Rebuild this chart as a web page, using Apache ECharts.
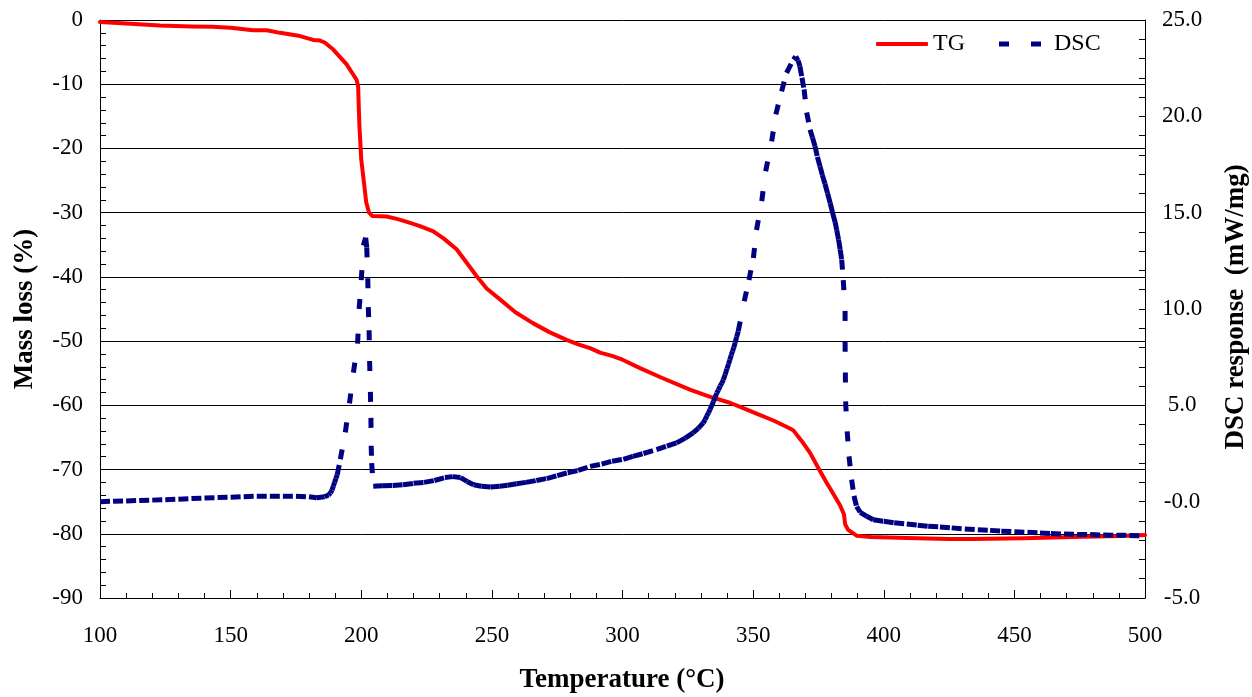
<!DOCTYPE html>
<html>
<head>
<meta charset="utf-8">
<script src="https://cdn.jsdelivr.net/npm/echarts@6/dist/echarts.min.js"></script>
<style>
  html, body { margin: 0; padding: 0; background: #fff; }
  #chart { width: 1252px; height: 697px; }
</style>
</head>
<body>
<div id="chart"></div>
<script>
// Temperature ticks and axis ranges
const xTicks = [100, 150, 200, 250, 300, 350, 400, 450, 500];
const massTicks = [0, -10, -20, -30, -40, -50, -60, -70, -80, -90];
const dscTicks = [-5, 0, 5, 10, 15, 20, 25];
const dscTickLabels = ['-5.0', '-0.0', '5.0', '10.0', '15.0', '20.0', '25.0'];

// TG curve: temperature (°C) and mass loss (%)
const tgT = [100, 110, 123, 135, 143, 150, 158.6, 163.8, 168.9, 176.6, 181.6, 184.2, 186, 189.3, 194.4,
  198.2, 198.8, 199.3, 200, 201.2, 201.9, 203, 204.2, 209.7, 214, 218.7, 222.5, 227.6, 231.5, 236.5, 240,
  244.2, 248, 253.1, 259, 265.7, 272, 278.6, 283, 287.6, 291.4, 296, 300, 306.7, 315, 325.8, 333, 341.1,
  346, 351.3, 358, 364.1, 365.4, 368.5, 371.8, 375, 378.2, 381, 383.3, 384.8, 385.2, 386.4, 389.6, 395,
  408.8, 425, 434.3, 453.4, 472.6, 490, 500];
const tgV = [-0.3, -0.55, -0.86, -1.0, -1.06, -1.2, -1.6, -1.6, -2.0, -2.5, -3.1, -3.2, -3.5, -4.6, -6.9,
  -9.3, -10.3, -16.5, -21.7, -25.9, -28.4, -30.0, -30.5, -30.6, -31.0, -31.6, -32.1, -32.9, -34.0, -35.7,
  -37.6, -39.9, -41.8, -43.5, -45.5, -47.2, -48.6, -49.8, -50.5, -51.1, -51.8, -52.3, -52.9, -54.2, -55.7,
  -57.55, -58.6, -59.6, -60.4, -61.3, -62.4, -63.6, -63.9, -65.5, -67.4, -69.8, -72.1, -74.0, -75.6, -77.0,
  -78.5, -79.4, -80.3, -80.5, -80.65, -80.8, -80.8, -80.7, -80.5, -80.35, -80.2];

// DSC curve: temperature (°C) and heat flow (mW/mg)
const dscT = [100, 105, 110, 115, 120, 125, 130, 135, 140, 145, 150, 155, 160, 165, 170, 175, 180, 183,
  186, 187.5, 188.2, 188.8, 189.3, 189.8, 190.3, 190.8, 192, 193.9, 195.5, 197, 198.6, 199.2, 200, 200.8,
  201.7, 202.1, 202.5, 202.7, 203, 203.2, 203.5, 203.7, 203.8, 204, 204.6, 208, 212, 216, 220, 224, 228,
  232, 235, 238, 240.5, 243, 246, 249.5, 253, 256, 259.5, 263, 267, 271, 275, 279, 283, 287.6, 292, 296,
  300.3, 304, 308, 313, 317, 320.7, 324, 327, 329, 330.9, 331.6, 332.3, 332.9, 333.5, 334.2, 334.8, 335.5,
  336.1, 336.7, 337.4, 338, 338.6, 339.3, 340, 340.6, 341.1, 341.6, 342.1, 342.6, 343.1, 343.7, 344.3,
  346.6, 348.4, 350.1, 351.3, 353.3, 354.8, 357.1, 358.7, 360.9, 362.8, 365.4, 366.3, 367.2, 367.9, 368.7,
  369.5, 370.5, 371.8, 372.7, 373.7, 374.6, 375.6, 376.5, 377.5, 378.5, 379.5, 380.4, 381.4, 382, 382.7,
  383.3, 383.9, 384.5, 385.2, 385.2, 385.3, 385.4, 386, 386.7, 387.7, 388.6, 389.6, 391, 393.5, 396, 400,
  404, 408.8, 413, 417, 421.5, 426, 431, 436, 440.7, 445, 450, 455, 459.8, 464, 469, 474, 479, 484, 489,
  494, 500];
const dscV = [0.0, 0.02, 0.04, 0.06, 0.08, 0.1, 0.13, 0.16, 0.19, 0.21, 0.23, 0.26, 0.28, 0.28, 0.28,
  0.28, 0.25, 0.2, 0.25, 0.35, 0.45, 0.6, 0.8, 1.0, 1.2, 1.4, 2.2, 3.6, 5.1, 6.7, 8.2, 10.0, 11.5, 13.3,
  13.7, 13.2, 11.6, 10.1, 8.9, 7.3, 5.7, 4.35, 2.9, 2.0, 0.8, 0.82, 0.84, 0.88, 0.95, 1.0, 1.1, 1.25, 1.3,
  1.25, 1.05, 0.88, 0.8, 0.76, 0.8, 0.85, 0.93, 1.0, 1.1, 1.2, 1.35, 1.5, 1.62, 1.83, 1.95, 2.1, 2.2, 2.35,
  2.5, 2.7, 2.88, 3.05, 3.3, 3.57, 3.8, 4.09, 4.25, 4.45, 4.6, 4.78, 5.0, 5.2, 5.42, 5.64, 5.8, 6.0, 6.15,
  6.33, 6.6, 6.9, 7.15, 7.37, 7.6, 7.8, 8.0, 8.24, 8.55, 8.84, 10.4, 11.5, 12.65, 14.1, 15.6, 17.15, 18.7,
  20.1, 21.3, 22.26, 22.95, 23.1, 22.9, 22.6, 22.0, 21.4, 20.2, 19.3, 18.9, 18.45, 17.9, 17.4, 16.95, 16.5,
  16.0, 15.5, 15.0, 14.5, 14.1, 13.6, 13.1, 12.56, 11.5, 9.9, 8.3, 6.7, 5.2, 3.65, 2.35, 1.14, 0.3, -0.25,
  -0.55, -0.76, -0.94, -1.02, -1.1, -1.16, -1.22, -1.28, -1.31, -1.36, -1.42, -1.46, -1.49, -1.53, -1.56,
  -1.59, -1.62, -1.65, -1.68, -1.7, -1.71, -1.73, -1.74, -1.75, -1.78];

const FONT = "'Liberation Serif', 'Times New Roman', serif";
const TG_COLOR = '#ff0000';
const DSC_COLOR = '#000080';

const tgData = tgT.map((t, i) => [t, tgV[i]]);
// each DSC point also carries the previous point, so every segment is drawn on its own
const dscData = dscT.map((t, i) => [t, dscV[i], i ? dscT[i - 1] : t, i ? dscV[i - 1] : dscV[i]]);

const chart = echarts.init(document.getElementById('chart'), null, { renderer: 'canvas' });

const axisText = { color: '#000', fontFamily: FONT, fontSize: 23 };

chart.setOption({
  animation: false,
  backgroundColor: '#fff',
  grid: { left: 100, right: 107, top: 20, bottom: 99, containLabel: false },
  legend: [
    {
      data: [{ name: 'TG', icon: 'roundRect', itemStyle: { color: TG_COLOR } }],
      left: 876, top: 32, padding: 0,
      itemWidth: 52, itemHeight: 4, itemGap: 0,
      textStyle: { color: '#000', fontFamily: FONT, fontSize: 24, lineHeight: 24, padding: [0, 0, 0, 0] }
    },
    {
      data: [{ name: 'DSC', icon: 'path://M0,0H10V5H0Z M32,0H42V5H32Z', itemStyle: { color: DSC_COLOR } }],
      left: 999, top: 32, padding: 0,
      itemWidth: 42, itemHeight: 5, itemGap: 0,
      textStyle: { color: '#000', fontFamily: FONT, fontSize: 24, lineHeight: 24, padding: [0, 0, 0, 8] }
    }
  ],
  xAxis: {
    type: 'value', min: xTicks[0], max: xTicks[xTicks.length - 1], interval: 50,
    axisLine: { show: true, onZero: false, lineStyle: { color: '#000', width: 1 } },
    axisTick: { show: true, inside: true, length: 8, lineStyle: { color: '#000' } },
    minorTick: { show: true, splitNumber: 5, length: 5, lineStyle: { color: '#000' } },
    axisLabel: Object.assign({ margin: 26 }, axisText),
    splitLine: { show: false }
  },
  yAxis: [
    {
      type: 'value', position: 'left', min: massTicks[massTicks.length - 1], max: massTicks[0], interval: 10,
      axisLine: { show: true, onZero: false, lineStyle: { color: '#000', width: 1 } },
      axisTick: { show: true, inside: true, length: 7, lineStyle: { color: '#000' } },
      minorTick: { show: true, splitNumber: 5, length: 6, lineStyle: { color: '#000' } },
      axisLabel: Object.assign({ margin: 17 }, axisText),
      splitLine: { show: true, lineStyle: { color: '#000', width: 1 } }
    },
    {
      type: 'value', position: 'right', min: dscTicks[0], max: dscTicks[dscTicks.length - 1], interval: 5,
      axisLine: { show: true, onZero: false, lineStyle: { color: '#000', width: 1 } },
      axisTick: { show: true, inside: true, length: 6, lineStyle: { color: '#000' } },
      minorTick: { show: true, splitNumber: 5, length: 6, lineStyle: { color: '#000' } },
      axisLabel: Object.assign({
        margin: 37, align: 'center',
        formatter: v => {
          const k = dscTicks.indexOf(v);
          return k >= 0 ? dscTickLabels[k] : v.toFixed(1);
        }
      }, axisText),
      splitLine: { show: false }
    }
  ],
  series: [
    {
      name: 'TG', type: 'line', xAxisIndex: 0, yAxisIndex: 0,
      data: tgData, showSymbol: false, symbol: 'none', smooth: false,
      lineStyle: { color: TG_COLOR, width: 4, join: 'round', cap: 'round' },
      itemStyle: { color: TG_COLOR },
      z: 3
    },
    {
      name: 'DSC', type: 'custom', coordinateSystem: 'cartesian2d', xAxisIndex: 0, yAxisIndex: 1,
      data: dscData, encode: { x: 0, y: 1 },
      itemStyle: { color: DSC_COLOR },
      z: 4,
      renderItem: function (params, api) {
        if (params.dataIndex === 0) return null;
        const a = api.coord([api.value(2), api.value(3)]);
        const b = api.coord([api.value(0), api.value(1)]);
        return {
          type: 'line',
          shape: { x1: a[0], y1: a[1], x2: b[0], y2: b[1] },
          style: { stroke: DSC_COLOR, lineWidth: 5, lineDash: [10, 40], lineCap: 'butt', fill: null }
        };
      }
    }
  ],
  graphic: [
    {
      type: 'text', x: 25, y: 309, rotation: Math.PI / 2,
      style: { text: 'Mass loss (%)', fill: '#000', font: 'bold 27px ' + FONT, textAlign: 'center', textVerticalAlign: 'middle' }
    },
    {
      type: 'text', x: 1236, y: 307, rotation: Math.PI / 2,
      style: { text: 'DSC response  (mW/mg)', fill: '#000', font: 'bold 27px ' + FONT, textAlign: 'center', textVerticalAlign: 'middle' }
    },
    {
      type: 'text', x: 622, y: 680,
      style: { text: 'Temperature (°C)', fill: '#000', font: 'bold 27px ' + FONT, textAlign: 'center', textVerticalAlign: 'middle' }
    }
  ]
});
</script>
</body>
</html>
